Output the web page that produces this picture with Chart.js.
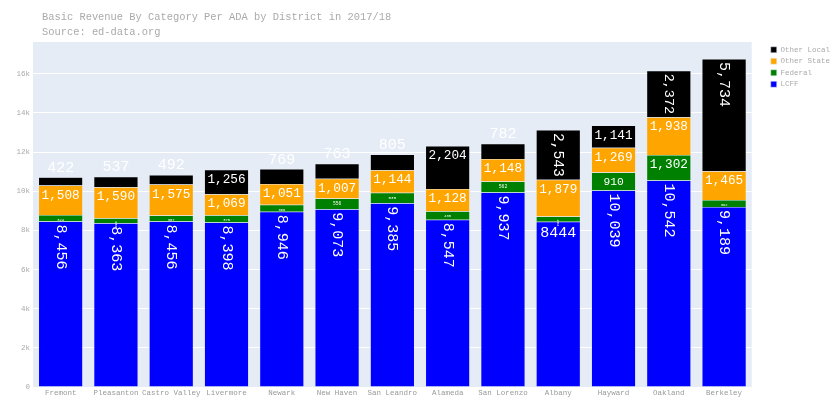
<!DOCTYPE html>
<html>
<head>
<meta charset="utf-8">
<script src="https://cdn.jsdelivr.net/npm/chart.js@4.4.0/dist/chart.umd.min.js"></script>
<style>
html, body { margin: 0; padding: 0; background: #fff; }
#wrap { width: 840px; height: 420px; }
</style>
</head>
<body>
<div id="wrap"><canvas id="chart"></canvas></div>
<script>
const districts = ["Fremont", "Pleasanton", "Castro Valley", "Livermore", "Newark", "New Haven",
    "San Leandro", "Alameda", "San Lorenzo", "Albany", "Hayward", "Oakland", "Berkeley"];
const lcff       = [8456, 8363, 8456, 8398, 8946, 9073, 9385, 8547, 9937, 8444, 10039, 10542, 9189];
const federal    = [324, 250, 307, 375, 366, 556, 535, 435, 562, 264, 910, 1302, 362];
const otherState = [1508, 1590, 1575, 1069, 1051, 1007, 1144, 1128, 1148, 1879, 1269, 1938, 1465];
const otherLocal = [422, 537, 492, 1256, 769, 763, 805, 2204, 782, 2543, 1141, 2372, 5734];
const yTicks      = [0, 2000, 4000, 6000, 8000, 10000, 12000, 14000, 16000];
const yTickLabels = ["0", "2k", "4k", "6k", "8k", "10k", "12k", "14k", "16k"];
const titleLines = ["Basic Revenue By Category Per ADA by District in 2017/18", "Source: ed-data.org"];

const MONO = '"Liberation Mono", "Courier New", monospace';

// the source printed Albany's LCFF value without a thousands separator
function labelText(di, i, v) {
    if (di === 0 && districts[i] === "Albany") return String(v);
    return v.toLocaleString("en-US");
}

const plotBg = {
    id: "plotBg",
    beforeDraw(chart) {
        const a = chart.chartArea, ctx = chart.ctx;
        ctx.save();
        ctx.fillStyle = "#e5ecf6";
        ctx.fillRect(a.left, a.top, a.right - a.left, a.bottom - a.top);
        ctx.restore();
    }
};

const titleText = {
    id: "titleText",
    afterDraw(chart) {
        const ctx = chart.ctx;
        ctx.save();
        ctx.font = "10.4px " + MONO;
        ctx.fillStyle = "#aaaaaa";
        ctx.textBaseline = "middle";
        ctx.fillText(titleLines[0], 42, 17);
        ctx.fillText(titleLines[1], 42, 32);
        ctx.restore();
    }
};

// segment labels, placed roughly like plotly's textposition "auto"
const segLabels = {
    id: "segLabels",
    afterDatasetsDraw(chart) {
        const ctx = chart.ctx;
        const base = 15, pad = 3;
        const last = chart.data.datasets.length - 1;
        ctx.save();
        ctx.fillStyle = "#ffffff";
        chart.data.datasets.forEach((ds, di) => {
            const meta = chart.getDatasetMeta(di);
            meta.data.forEach((bar, i) => {
                const p = bar.getProps(["x", "y", "base", "width"], true);
                const txt = labelText(di, i, ds.data[i]);
                ctx.font = base + "px " + MONO;
                const w = ctx.measureText(txt).width;
                const h = base * 1.05;
                const W = p.width, H = p.base - p.y;
                const sH = Math.min(1, (W - 2 * pad) / w, (H - 2 * pad) / h);
                const sR = Math.min(1, (H - 2 * pad) / w, (W - 2 * pad) / h);
                const rotate = sR > sH;
                let s = Math.max(sH, sR);

                if (di === last && s < 0.7) {
                    ctx.font = base + "px " + MONO;
                    ctx.textAlign = "center";
                    ctx.textBaseline = "bottom";
                    ctx.fillText(txt, p.x, p.y - 2);
                    return;
                }
                s = Math.max(s, 0.25);
                ctx.font = (base * s).toFixed(2) + "px " + MONO;
                if (rotate) {
                    ctx.save();
                    ctx.translate(p.x, p.y + pad);
                    ctx.rotate(Math.PI / 2);
                    ctx.textAlign = "left";
                    ctx.textBaseline = "middle";
                    ctx.fillText(txt, 0, 0);
                    ctx.restore();
                } else {
                    ctx.textAlign = "center";
                    ctx.textBaseline = "middle";
                    ctx.fillText(txt, p.x, p.y + pad + h * s / 2);
                }
            });
        });
        ctx.restore();
    }
};

function seg(label, data, color) {
    return {
        label: label,
        data: data,
        backgroundColor: color,
        borderColor: "#e5ecf6",
        borderWidth: 0.5,
        barPercentage: 0.8,
        categoryPercentage: 1.0
    };
}

const ctx = document.getElementById("chart").getContext("2d");
new Chart(ctx, {
    type: "bar",
    data: {
        labels: districts,
        datasets: [
            seg("LCFF", lcff, "#0000ff"),
            seg("Federal", federal, "#008000"),
            seg("Other State", otherState, "#ffa500"),
            seg("Other Local", otherLocal, "#000000")
        ]
    },
    options: {
        responsive: true,
        maintainAspectRatio: false,
        animation: false,
        layout: { padding: { top: 42, right: 0, left: 0, bottom: 0 } },
        plugins: {
            title: { display: false },
            tooltip: { enabled: false },
            legend: {
                position: "right",
                align: "start",
                reverse: true,
                labels: {
                    boxWidth: 6,
                    boxHeight: 6,
                    padding: 4,
                    color: "#aaaaaa",
                    font: { family: MONO, size: 7.5 }
                }
            }
        },
        scales: {
            x: {
                stacked: true,
                grid: { display: false, drawTicks: false },
                border: { display: false },
                ticks: { color: "#999999", padding: 2, maxRotation: 0, autoSkip: false,
                         font: { family: MONO, size: 7.5 } },
                afterFit: s => { s.height = 33; }
            },
            y: {
                stacked: true,
                min: 0,
                max: 17620,
                grid: { color: "#ffffff", lineWidth: 1, drawTicks: false },
                border: { display: false },
                afterBuildTicks: s => { s.ticks = yTicks.map(v => ({ value: v })); },
                ticks: {
                    color: "#aaaaaa",
                    padding: 3,
                    font: { family: MONO, size: 7.5 },
                    callback: v => yTickLabels[yTicks.indexOf(v)]
                },
                afterFit: s => { s.width = 33; }
            },
            gap: {
                type: "linear",
                position: "right",
                grid: { display: false, drawTicks: false },
                border: { display: false },
                ticks: { display: false },
                afterFit: s => { s.width = 15; }
            }
        }
    },
    plugins: [plotBg, segLabels, titleText]
});
</script>
</body>
</html>
